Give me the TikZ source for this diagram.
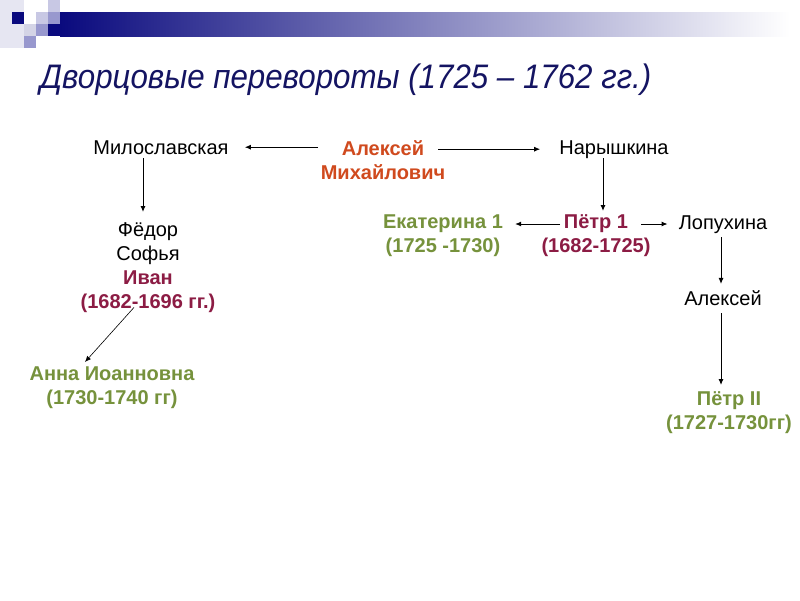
\documentclass[tikz,border=0pt]{standalone}
\usepackage{fontspec}
\setmainfont{Liberation Sans}
\newfontfamily\titlefont[FakeStretch=0.92]{Liberation Sans}
\usetikzlibrary{arrows.meta,calc}
\definecolor{titlec}{HTML}{141462}
\definecolor{navyc}{HTML}{0A0A7E}
\definecolor{lavA}{HTML}{C8C8E4}
\definecolor{lavB}{HTML}{9898CE}
\definecolor{lavC}{HTML}{D4D4E6}
\definecolor{lavD}{HTML}{E6E6F2}
\definecolor{orangec}{HTML}{D04A1E}
\definecolor{maroonc}{HTML}{8C1C44}
\definecolor{greenc}{HTML}{76923C}
\begin{document}
\begin{tikzpicture}[x=1pt,y=-1pt,
  body/.style={font=\fontsize{20}{24}\selectfont, inner sep=0pt, align=center},
  bbody/.style={font=\fontsize{20}{24}\selectfont\bfseries, inner sep=0pt, align=center},
  arr/.style={-{Latex[length=6pt,width=5pt]}, line width=1pt},
  thinarr/.style={-{Latex[length=6pt,width=5pt]}, line width=0.6pt}]
\useasboundingbox (0,0) rectangle (800,600);
\fill[white] (0,0) rectangle (800,600);
% header decoration
\fill[lavD] (0,0) rectangle (24,48);
\fill[navyc] (12,12) rectangle (24,24);
\fill[lavA] (48,0) rectangle (60,12);
\fill[lavA] (36,12) rectangle (48,24);
\fill[lavB] (48,12) rectangle (60,24);
\fill[lavC] (24,24) rectangle (36,36);
\fill[lavB] (36,24) rectangle (48,36);
\fill[lavB] (24,36) rectangle (36,48);
\shade[left color=navyc, right color=white] (60,12) rectangle (790,36);
\fill[navyc] (48,24) rectangle (60.5,36);
% title
\node[anchor=base west, inner sep=0pt, font=\titlefont\fontsize{34}{40}\selectfont\itshape, text=titlec] (title) at (40,88) {Дворцовые перевороты (1725 – 1762 гг.)};
% nodes
\node[body, anchor=base] (milo) at (161,154) {Милославская};
\node[bbody, anchor=north, text=orangec] (alex) at (383,140) {Алексей\\Михайлович};
\node[body, anchor=base] (nar) at (614,154) {Нарышкина};
\node[body, anchor=north] (fed) at (148,222) {Фёдор\\Софья\\\textcolor{maroonc}{\bfseries Иван}\\\textcolor{maroonc}{\bfseries (1682-1696 гг.)}};
\node[bbody, anchor=north, text=greenc] (anna) at (112,367) {Анна Иоанновна\\(1730-1740 гг)};
\node[bbody, anchor=north, text=greenc] (ekat) at (443,215) {Екатерина 1\\(1725 -1730)};
\node[bbody, anchor=north, text=maroonc] (peter) at (596,214) {Пётр 1\\(1682-1725)};
\node[body, anchor=base] (lop) at (723,229) {Лопухина};
\node[body, anchor=base] (alexs) at (723,305) {Алексей};
\node[bbody, anchor=north, text=greenc] (p2) at (729,391) {Пётр II\\(1727-1730гг)};
% connectors
\draw[arr, shorten <=65pt, shorten >=16pt] (alex.center |- milo.east) -- (milo.east);
\draw[arr, shorten <=55pt, shorten >=19pt] (alex.center |- nar.west) -- (nar.west);
\draw[arr] ($(milo.south)+(-18,4)$) -- ($(milo.south |- fed.north)+(-18,-10)$);
\draw[thinarr] ($(fed.south)+(-14,-5)$) -- ($(anna.north)+(-27,-5)$);
\draw[arr] ($(nar.south)+(-11,0)$) -- ($(nar.south |- peter.north)+(-11,-3)$);
\draw[arr, shorten <=36pt, shorten >=12pt] ($(peter.north)+(0,10)$) -- ($(peter.north -| ekat.east)+(0,10)$);
\draw[arr, shorten <=45pt, shorten >=11pt] ($(peter.north)+(0,10)$) -- ($(peter.north -| lop.west)+(0,10)$);
\draw[arr] ($(lop.south)+(-2,4)$) -- ($(lop.south |- alexs.north)+(-2,-6)$);
\draw[arr] ($(alexs.south)+(-2,8)$) -- ($(alexs.south |- p2.north)+(-2,-6)$);
\end{tikzpicture}
\end{document}
